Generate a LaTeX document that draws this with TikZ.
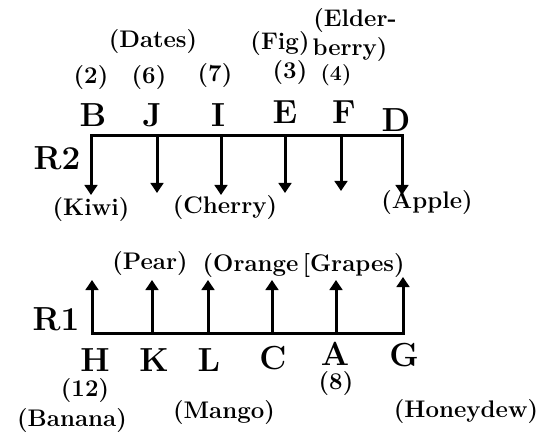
\documentclass[tikz,border=0pt]{standalone}
\usepackage{fontspec}
\usetikzlibrary{arrows.meta}

\tikzset{every picture/.style={line width=2.25pt}}
\tikzset{
  letr/.style={inner sep=0pt, font=\fontsize{25}{29}\selectfont\bfseries},
  lbl/.style={inner sep=0pt, font=\fontsize{18}{21}\selectfont\bfseries},
  rod/.style={line width=2.25pt, line cap=rect},
  arr/.style={line width=2.25pt, -{Triangle[width=9.5pt,length=7.5pt]}}
}

\begin{document}
\begin{tikzpicture}[x=0.75pt,y=0.75pt,yscale=-1,xscale=1]
\useasboundingbox (0,0) rectangle (560,438);

%Row R2 (arrows down)
\coordinate (r2b) at (91,136);
\coordinate (r2j) at (157,136);
\coordinate (r2i) at (221,136);
\coordinate (r2e) at (285,136);
\coordinate (r2f) at (341,136);
\coordinate (r2d) at (402,136);
\coordinate (t2b) at (91,195);
\coordinate (t2j) at (157,193);
\coordinate (t2i) at (221,195);
\coordinate (t2e) at (285,193);
\coordinate (t2f) at (341,191);
\coordinate (t2d) at (402,195);
%Straight Lines
\draw [rod] (r2b) -- (r2d) ;
\draw [arr] (r2b) -- (t2b) ;
\draw [arr] (r2j) -- (t2j) ;
\draw [arr] (r2i) -- (t2i) ;
\draw [arr] (r2e) -- (t2e) ;
\draw [arr] (r2f) -- (t2f) ;
\draw [arr] (r2d) -- (t2d) ;

%Row R1 (arrows up)
\coordinate (r1h) at (92,333);
\coordinate (r1k) at (152,333);
\coordinate (r1l) at (208,333);
\coordinate (r1c) at (272,333);
\coordinate (r1a) at (336,333);
\coordinate (r1g) at (403,333);
\coordinate (t1h) at (92,280);
\coordinate (t1k) at (152,280);
\coordinate (t1l) at (208,280);
\coordinate (t1c) at (272,280);
\coordinate (t1a) at (336,280);
\coordinate (t1g) at (403,277);
%Straight Lines
\draw [rod] (r1h) -- (r1g) ;
\draw [arr] (r1h) -- (t1h) ;
\draw [arr] (r1k) -- (t1k) ;
\draw [arr] (r1l) -- (t1l) ;
\draw [arr] (r1c) -- (t1c) ;
\draw [arr] (r1a) -- (t1a) ;
\draw [arr] (r1g) -- (t1g) ;

% Text Node
\node [letr] (R2) at (57,158) {R2};
\node [letr] (R1) at (56,319) {R1};
% Text Node
\node [letr] (B) at (93,115) {B};
\node [letr] (J) at (152,115) {J};
\node [letr] (I) at (218,115) {I};
\node [letr] (E) at (285,112) {E};
\node [letr] (F) at (344,112) {F};
\node [letr] (D) at (396,120) {D};
% Text Node
\node [lbl] (n2) at (91,78) {(2)};
\node [lbl] (n6) at (149,78) {(6)};
\node [lbl] (n7) at (215,76) {(7)};
\node [lbl] (n3) at (290,73) {(3)};
\node [lbl, font=\fontsize{16}{19}\selectfont\bfseries] (n4) at (336,75) {(4)};
\node [lbl] (dates) at (153,42) {(Dates)};
\node [lbl] (fig) at (280,44) {(Fig)};
\node [lbl] (elder) at (355,21) {(Elder-};
\node [lbl] (berry) at (350,50) {berry)};
% Text Node
\node [lbl] (kiwi) at (91,210) {(Kiwi)};
\node [lbl] (cherry) at (225,208) {(Cherry)};
\node [lbl] (apple) at (427,203) {(Apple)};
% Text Node
\node [letr] (H) at (95,360) {H};
\node [letr] (K) at (154,360) {K};
\node [letr] (L) at (209,360) {L};
\node [letr] (C) at (273,358) {C};
\node [letr] (A) at (335,354) {A};
\node [letr] (G) at (404,355) {G};
% Text Node
\node [lbl] (pear) at (150,264) {(Pear)};
\node [lbl, anchor=east] (orange) at (300,266) {(Orange};
\node [lbl, anchor=west] (grapes) at (301,266) {[Grapes)};
\node [lbl] (n12) at (85,391) {(12)};
\node [lbl] (n8) at (336,384) {(8)};
\node [lbl] (banana) at (72,421) {(Banana)};
\node [lbl] (mango) at (224,413) {(Mango)};
\node [lbl] (honeydew) at (466,412) {(Honeydew)};

\end{tikzpicture}
\end{document}
